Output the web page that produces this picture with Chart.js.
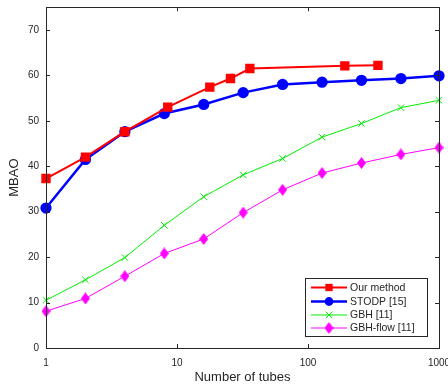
<!DOCTYPE html>
<html>
<head>
<meta charset="utf-8">
<script src="https://cdn.jsdelivr.net/npm/chart.js@4.4.1/dist/chart.umd.min.js"></script>
<style>
  html, body { margin: 0; padding: 0; background: #fff; }
  #chart { display: block; }
</style>
</head>
<body>
<canvas id="chart" width="448" height="385"></canvas>
<script>
// data
const tubesOurs = [1, 2, 4, 8.5, 17.8, 25.6, 36, 191, 342];
const mbaoOurs = [37.3, 42.0, 47.6, 53.0, 57.4, 59.3, 61.5, 62.1, 62.2];

const tubes = [1, 2, 4, 8, 16, 32, 64, 128, 256, 512, 1000];
const mbaoStodp = [30.8, 41.5, 47.6, 51.6, 53.6, 56.2, 58.0, 58.5, 58.9, 59.3, 59.9];
const mbaoGbh = [10.5, 15.0, 19.9, 27.0, 33.3, 38.1, 41.7, 46.4, 49.4, 52.9, 54.5];
const mbaoGbhFlow = [8.1, 10.9, 15.8, 20.8, 24.0, 29.8, 34.8, 38.5, 40.7, 42.6, 44.1];

const seriesNames = ['Our method', 'STODP [15]', 'GBH [11]', 'GBH-flow [11]'];
const xTicks = [1, 10, 100, 1000];
const yTicks = [0, 10, 20, 30, 40, 50, 60, 70];

const axisColor = '#262626';
const font = 'Liberation Sans, Arial, Helvetica, sans-serif';

function toPoints(xs, ys) {
    return xs.map((x, i) => ({ x: x, y: ys[i] }));
}

// matlab style diamond is taller than wide, so make it as a little canvas
function makeDiamond(w, h, color) {
    const c = document.createElement('canvas');
    c.width = w; c.height = h;
    const g = c.getContext('2d');
    g.fillStyle = color;
    g.beginPath();
    g.moveTo(w / 2, 0); g.lineTo(w, h / 2); g.lineTo(w / 2, h); g.lineTo(0, h / 2);
    g.closePath();
    g.fill();
    return c;
}
const diamond = makeDiamond(9, 12, '#ff00ff');

// marker drawing for the legend (same shapes as chart.js draws)
function drawMarker(ctx, style, x, y, r, color) {
    ctx.save();
    ctx.fillStyle = color;
    ctx.strokeStyle = color;
    ctx.lineWidth = 1;
    ctx.beginPath();
    if (style === 'rect') {
        const s = r * Math.SQRT1_2;
        ctx.rect(x - s, y - s, s * 2, s * 2);
        ctx.fill();
    } else if (style === 'circle') {
        ctx.arc(x, y, r, 0, Math.PI * 2);
        ctx.fill();
    } else if (style === 'crossRot') {
        const s = r * Math.SQRT1_2;
        ctx.moveTo(x - s, y - s); ctx.lineTo(x + s, y + s);
        ctx.moveTo(x + s, y - s); ctx.lineTo(x - s, y + s);
        ctx.stroke();
    } else if (style instanceof HTMLCanvasElement) {
        ctx.drawImage(style, x - style.width / 2, y - style.height / 2);
    }
    ctx.restore();
}

const framePlugin = {
    id: 'frame',
    afterDraw(chart) {
        const ctx = chart.ctx;
        const a = chart.chartArea;
        const xs = chart.scales.x;
        const ys = chart.scales.y;
        const t = 4;
        ctx.save();
        ctx.strokeStyle = axisColor;
        ctx.lineWidth = 1;
        ctx.strokeRect(Math.round(a.left) + 0.5, Math.round(a.top) + 0.5,
            Math.round(a.right - a.left), Math.round(a.bottom - a.top));
        ctx.beginPath();
        xTicks.forEach(v => {
            const px = Math.round(xs.getPixelForValue(v)) + 0.5;
            ctx.moveTo(px, a.bottom); ctx.lineTo(px, a.bottom - t);
            ctx.moveTo(px, a.top); ctx.lineTo(px, a.top + t);
        });
        yTicks.forEach(v => {
            const py = Math.round(ys.getPixelForValue(v)) + 0.5;
            ctx.moveTo(a.left, py); ctx.lineTo(a.left + t, py);
            ctx.moveTo(a.right, py); ctx.lineTo(a.right - t, py);
        });
        ctx.stroke();

        // legend box inside the plot
        const bx = 305.5, by = 278.5, bw = 122, bh = 58;
        ctx.fillStyle = '#fff';
        ctx.fillRect(bx, by, bw, bh);
        ctx.strokeStyle = axisColor;
        ctx.strokeRect(bx, by, bw, bh);
        const rows = [287.5, 301.5, 315, 328];
        chart.data.datasets.forEach((ds, i) => {
            const y = rows[i];
            ctx.strokeStyle = ds.borderColor;
            ctx.lineWidth = ds.borderWidth;
            ctx.beginPath();
            ctx.moveTo(311, y); ctx.lineTo(347, y);
            ctx.stroke();
            drawMarker(ctx, ds.pointStyle, 329, y, ds.pointRadius, ds.borderColor);
            ctx.fillStyle = axisColor;
            ctx.font = '10.5px ' + font;
            ctx.textBaseline = 'middle';
            ctx.textAlign = 'left';
            ctx.fillText(ds.label, 350, y + 0.5);
        });
        ctx.restore();
    }
};

new Chart(document.getElementById('chart').getContext('2d'), {
    type: 'line',
    data: {
        datasets: [
            {
                label: seriesNames[0],
                data: toPoints(tubesOurs, mbaoOurs),
                borderColor: '#ff0000', backgroundColor: '#ff0000',
                borderWidth: 2, pointStyle: 'rect', pointRadius: 5.2,
            },
            {
                label: seriesNames[1],
                data: toPoints(tubes, mbaoStodp),
                borderColor: '#0000ff', backgroundColor: '#0000ff',
                borderWidth: 2.5, pointStyle: 'circle', pointRadius: 4.4,
            },
            {
                label: seriesNames[2],
                data: toPoints(tubes, mbaoGbh),
                borderColor: '#00ee00', backgroundColor: '#00ee00',
                borderWidth: 1, pointStyle: 'crossRot', pointRadius: 4.6, pointBorderWidth: 1,
            },
            {
                label: seriesNames[3],
                data: toPoints(tubes, mbaoGbhFlow),
                borderColor: '#ff00ff', backgroundColor: '#ff00ff',
                borderWidth: 1, pointStyle: diamond, pointRadius: 5,
            },
        ],
    },
    options: {
        responsive: false,
        animation: false,
        clip: false,
        layout: { padding: { top: 6, right: 9, left: 0, bottom: 0 } },
        plugins: {
            legend: { display: false },
            tooltip: { enabled: false },
        },
        scales: {
            x: {
                type: 'logarithmic',
                min: 1, max: 1000,
                afterBuildTicks: (scale) => { scale.ticks = xTicks.map(v => ({ value: v })); },
                afterFit: (scale) => {
                    scale.height = 37;
                    scale.paddingLeft = 0; scale.paddingRight = 0;
                },
                grid: { display: false, drawTicks: false },
                border: { display: false },
                ticks: {
                    color: axisColor, padding: 9, maxRotation: 0,
                    font: { family: font, size: 10 },
                    callback: (v) => String(v),
                },
                title: {
                    display: true, text: 'Number of tubes', color: axisColor,
                    font: { family: font, size: 13 }, padding: { top: 0, bottom: 0 },
                },
            },
            y: {
                min: 0, max: 75,
                afterBuildTicks: (scale) => { scale.ticks = yTicks.map(v => ({ value: v })); },
                afterFit: (scale) => {
                    scale.width = 46;
                    scale.paddingTop = 0; scale.paddingBottom = 0;
                },
                grid: { display: false, drawTicks: false },
                border: { display: false },
                ticks: {
                    color: axisColor, padding: 7,
                    font: { family: font, size: 10 },
                },
                title: {
                    display: true, text: 'MBAO', color: axisColor,
                    font: { family: font, size: 13 }, padding: { top: 7, bottom: 0 },
                },
            },
        },
    },
    plugins: [framePlugin],
});
</script>
</body>
</html>
